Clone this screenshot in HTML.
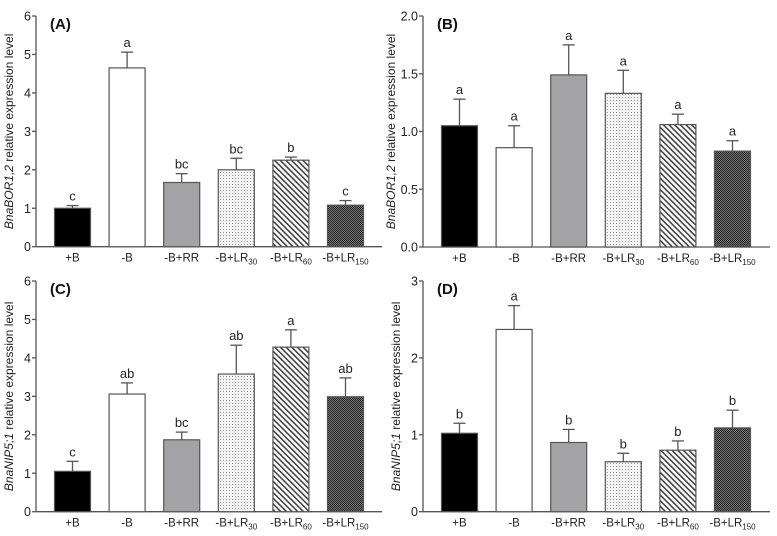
<!DOCTYPE html>
<html><head><meta charset="utf-8">
<style>
html,body{margin:0;padding:0;background:#fff;}
svg{display:block;font-family:"Liberation Sans",Arial,sans-serif;}
</style></head>
<body>
<svg id="fig" width="777" height="536" viewBox="0 0 777 536" xmlns="http://www.w3.org/2000/svg">
<defs>
<pattern id="pDots" width="3" height="3" patternUnits="userSpaceOnUse"><rect width="3" height="3" fill="#f4f4f4"/><rect x="1" y="1" width="1" height="1" fill="#999"/></pattern>
<pattern id="pDiag" width="4" height="4" patternUnits="userSpaceOnUse" patternTransform="rotate(-45)"><rect width="4" height="4" fill="#fff"/><rect x="0" y="0" width="1.6" height="4" fill="#444"/></pattern>
<pattern id="pCheck" width="2" height="2" patternUnits="userSpaceOnUse"><rect width="2" height="2" fill="#777"/><rect width="1" height="1" fill="#222"/><rect x="1" y="1" width="1" height="1" fill="#222"/></pattern>
</defs>
</svg>
<script>
const categories = ["+B","-B","-B+RR","-B+LR","-B+LR","-B+LR"];
const catSubs = ["","","","30","60","150"];
const valuesA = [1.0,4.65,1.67,2.0,2.25,1.08];
const errA = [0.07,0.41,0.23,0.3,0.08,0.12];
const lettersA = ["c","a","bc","bc","b","c"];
const valuesB = [1.05,0.86,1.49,1.33,1.06,0.83];
const errB = [0.23,0.19,0.26,0.2,0.09,0.09];
const lettersB = ["a","a","a","a","a","a"];
const valuesC = [1.05,3.06,1.87,3.58,4.28,2.99];
const errC = [0.26,0.29,0.2,0.75,0.45,0.49];
const lettersC = ["c","ab","bc","ab","a","ab"];
const valuesD = [1.02,2.37,0.9,0.65,0.8,1.09];
const errD = [0.13,0.31,0.17,0.11,0.12,0.23];
const lettersD = ["b","a","b","b","b","b"];
const ticksA = ["0","1","2","3","4","5","6"];
const ticksB = ["0.0","0.5","1.0","1.5","2.0"];
const ticksC = ["0","1","2","3","4","5","6"];
const ticksD = ["0","1","2","3"];

const fills = ["#000","#fff","#a3a3a6","url(#pDots)","url(#pDiag)","url(#pCheck)"];
const svg = document.getElementById('fig');
const NS = "http://www.w3.org/2000/svg";
function mk(tag, attrs, parent){const e=document.createElementNS(NS,tag);for(const k in attrs)e.setAttribute(k,attrs[k]);(parent||svg).appendChild(e);return e;}

function panel(id, label, x0, x1, yTop, yBot, yMax, ticks, vals, errs, letters, gene, geneRest, titleOff){
  const g = mk('g',{});
  
  
  const ys = v => yBot - (v/yMax)*(yBot-yTop);
  const step = 54.6, first = x0 + 36.5, bw = 36;
  const xs = i => first + i*step;
  const ya = mk('line',{x1:x0,y1:yTop,x2:x0,y2:yBot,stroke:'#555','stroke-width':1.3},g);
  
  
  const xa = mk('line',{x1:x0,y1:yBot,x2:x1,y2:yBot,stroke:'#555','stroke-width':1.3},g);
  
  
  ticks.forEach((t,i)=>{
    const v = parseFloat(t); const y = ys(v);
    mk('line',{x1:x0-4,y1:y,x2:x0,y2:y,stroke:'#555','stroke-width':1.3},g);
    const tx = mk('text',{x:x0-5,y:y+4.5,'text-anchor':'end','font-size':12.5,fill:'#222'},g);
    tx.textContent = t;
    
    
  });
  const cy = (yTop+yBot)/2, tx0 = x0-titleOff;
  const yt = mk('text',{x:tx0,y:cy,'text-anchor':'middle','font-size':12,fill:'#222',transform:`rotate(-90 ${tx0} ${cy})`},g);
  
  
  const ts1 = mk('tspan',{'font-style':'italic'},yt); ts1.textContent = gene;
  const ts2 = mk('tspan',{},yt); ts2.textContent = geneRest;
  const pl = mk('text',{x:x0+14,y:yTop+13,'font-size':15,'font-weight':'bold',fill:'#111'},g);
  pl.textContent = label;
  
  
  vals.forEach((v,i)=>{
    const cx = xs(i);
    const topY = ys(v+errs[i]);
    const el = mk('line',{x1:cx,y1:ys(v),x2:cx,y2:topY,stroke:'#555','stroke-width':1.3},g);
    
    
    mk('line',{x1:cx-6,y1:topY,x2:cx+6,y2:topY,stroke:'#555','stroke-width':1.3},g);
    const r = mk('rect',{x:cx-bw/2,y:ys(v),width:bw,height:yBot-ys(v),fill:fills[i],stroke:'#555','stroke-width':1.2},g);
    
    
    const lt = mk('text',{x:cx,y:topY-5,'text-anchor':'middle','font-size':13,fill:'#222'},g);
    lt.textContent = letters[i];
    
    
    const xl = mk('text',{x:cx,y:yBot+15,'text-anchor':'middle','font-size':11.5,fill:'#222'},g);
    
    
    const m = mk('tspan',{},xl); m.textContent = categories[i];
    if(catSubs[i]){ const s = mk('tspan',{'font-size':8,dy:3},xl); s.textContent = catSubs[i]; }
  });
}
panel('a','(A)',36,382,16,246.7,6,ticksA,valuesA,errA,lettersA,'BnaBOR1,2',' relative expression level',23);
panel('b','(B)',423,770,16,247,2,ticksB,valuesB,errB,lettersB,'BnaBOR1,2',' relative expression level',28);
panel('c','(C)',36,382,281,511.7,6,ticksC,valuesC,errC,lettersC,'BnaNIP5;1',' relative expression level',23);
panel('d','(D)',423,770,281,511.7,3,ticksD,valuesD,errD,lettersD,'BnaNIP5;1',' relative expression level',23);
</script>
</body></html>
